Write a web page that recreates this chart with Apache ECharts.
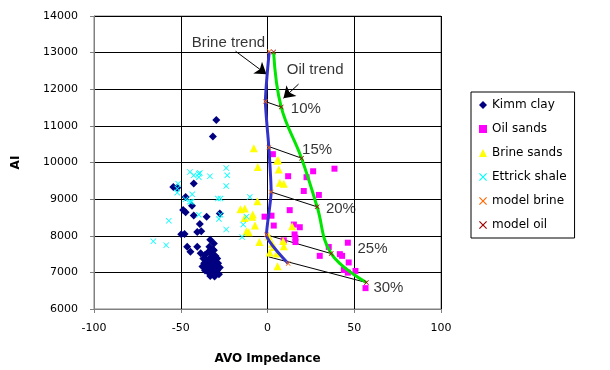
<!DOCTYPE html>
<html>
<head>
<meta charset="utf-8">
<script src="https://cdn.jsdelivr.net/npm/echarts@6/dist/echarts.min.js"></script>
<style>
  html, body { margin: 0; padding: 0; background: #fff; }
  #chart { width: 610px; height: 370px; }
</style>
</head>
<body>
<div id="chart"></div>
<script>
// 数据 (AVO Impedance, AI)
var kimmClay = [
  [-29.5, 11160], [-31.5, 10710],
  [-54.3, 9330], [-52, 9310], [-47.2, 9060], [-48.6, 8700], [-47.2, 8640], [-42.5, 8550],
  [-42.5, 9430], [-43.5, 8820], [-35.1, 8520], [-27.5, 8610], [-39, 8320], [-49.7, 8040],
  [-47.8, 8050], [-40.5, 8100], [-38.2, 8125], [-33, 7890], [-30.9, 7790], [-46.3, 7700],
  [-44.4, 7560], [-40.5, 7700], [-30.9, 7605],
  [-38.5, 7520], [-36, 7480], [-34, 7560], [-32, 7500], [-30, 7450], [-37, 7380],
  [-35, 7340], [-33, 7400], [-31, 7320], [-29, 7380], [-36.5, 7250], [-34.5, 7200],
  [-32.5, 7260], [-30.5, 7190], [-28.5, 7250], [-35, 7120], [-33, 7080], [-31, 7140],
  [-29, 7060], [-27.5, 7130], [-34, 7000], [-32, 6960], [-30, 7010], [-28, 6950],
  [-33, 6900], [-30.5, 6890], [-36, 7050], [-37.5, 7160], [-31.5, 7620], [-33.5, 7700]
];
var oilSands = [
  [3.1, 10227], [11.9, 9626], [26.3, 9761], [38.6, 9831], [22.5, 9599], [20.9, 9222],
  [29.6, 9114], [12.8, 8699], [-1.7, 8521], [2.3, 8548], [3.6, 8278], [15.2, 8305],
  [18.6, 8233], [15.6, 8036], [16.1, 7945], [16.1, 7828], [9.4, 7874], [46.3, 7810],
  [30.1, 7451], [35.3, 7694], [41.7, 7497], [43, 7451], [46.8, 7271], [44, 7066],
  [46.3, 6993], [50.7, 7039], [56.5, 6570]
];
var brineSands = [
  [-7.9, 10390], [6.1, 10070], [-5.6, 9880], [5.6, 10046], [6.5, 9810], [7.1, 9446],
  [9.4, 9419], [-5.8, 8940], [-15.6, 8726], [-13.1, 8745], [-8.5, 8580], [-8.8, 8521],
  [-13.2, 8483], [-7.2, 8278], [-12.1, 8125], [-10.8, 8098], [-4.7, 7828], [0.7, 7982],
  [2.7, 7782], [9, 7855], [3.6, 7694], [5.4, 7513], [1.3, 7545], [5.8, 7170],
  [9.4, 7713], [14.2, 8259]
];
var ettrickShale = [
  [-44.7, 9740], [-42.5, 9650], [-39.6, 9690], [-39, 9715], [-39.6, 9600], [-33.2, 9625],
  [-23.8, 9850], [-23.2, 9650], [-23.8, 9355], [-51.5, 9420], [-52, 9290], [-52, 9175],
  [-43.4, 9130], [-47.2, 8995], [-44.7, 8930], [-43.8, 8930], [-28.6, 9015], [-27.1, 9015],
  [-10.2, 9060], [-39.6, 8575], [-27.1, 8575], [-28, 8455], [-56.9, 8410], [-23.8, 8170],
  [-65.8, 7850], [-58.4, 7740], [-14, 8305], [-14.6, 7965], [-12.1, 8520]
];
// 模型点: 0%,10%,15%,20%,25%,30%
var modelBrine = [[1, 13030], [-1.2, 11663], [0.8, 10407], [2.1, 9195], [-0.6, 8025], [11.9, 7244]];
var modelOil = [[3.5, 13020], [7.9, 11512], [19.6, 10119], [28.6, 8790], [36.7, 7513], [57, 6723]];
// 连线 (brine -> oil)
var tieLines = [
  [[-1.2, 11663], [7.9, 11512]],
  [[0.8, 10435], [19.6, 10119]],
  [[2.1, 9195], [28.6, 8790]],
  [[-0.6, 8025], [36.7, 7513]],
  [[0.7, 7424], [57, 6723]]
];
var porosityLabels = ['10%', '15%', '20%', '25%', '30%'];
var porosityLabelAt = [[22.1, 11467], [28.6, 10343], [42.3, 8726], [60.5, 7648], [69.7, 6570]];
var trendLabels = ['Brine trend', 'Oil trend'];
var trendLabelAt = [[-22.5, 13272], [27.5, 12526]];
var trendArrows = [
  [[-18.4, 13038], [-0.6, 12410]],
  [[17.9, 12140], [9.2, 11755]]
];
var xTicks = [-100, 100, 50];   // min, max, interval
var yTicks = [6000, 14000, 1000];

var crossPath = 'path://M0,1L1,0L5,4L9,0L10,1L6,5L10,9L9,10L5,6L1,10L0,9L4,5Z';
var font = 'Liberation Sans, Arial, sans-serif';

var myCharts = echarts.init(document.getElementById('chart'));
var option = {
  backgroundColor: '#fff',
  animation: false,
  grid: {
    left: 94, right: 169, top: 16, bottom: 57,
    show: true, borderColor: '#808080', borderWidth: 1
  },
  legend: {
    orient: 'vertical',
    left: 471, top: 92,
    padding: [6, 8, 6, 8],
    itemGap: 10,
    itemWidth: 8, itemHeight: 8,
    borderColor: '#000', borderWidth: 1,
    textStyle: { fontFamily: 'DejaVu Sans', fontSize: 12, lineHeight: 14, color: '#000' },
    data: ['Kimm clay', 'Oil sands', 'Brine sands', 'Ettrick shale', 'model brine', 'model oil']
  },
  xAxis: {
    type: 'value',
    min: xTicks[0], max: xTicks[1], interval: xTicks[2],
    name: 'AVO Impedance', nameLocation: 'middle', nameGap: 44,
    nameTextStyle: { fontFamily: 'DejaVu Sans', fontWeight: 'bold', fontSize: 12, color: '#000' },
    axisLine: { onZero: false, lineStyle: { color: '#808080' } },
    axisTick: { show: true, length: 4, lineStyle: { color: '#808080' } },
    axisLabel: {
      fontFamily: 'DejaVu Sans', fontSize: 11, color: '#000', margin: 14,
      formatter: function (v) { return String(v); }
    },
    splitLine: { show: true, lineStyle: { color: '#000', width: 1 } }
  },
  yAxis: {
    type: 'value',
    min: yTicks[0], max: yTicks[1], interval: yTicks[2],
    name: 'AI', nameLocation: 'middle', nameGap: 72,
    nameTextStyle: { fontFamily: 'DejaVu Sans', fontWeight: 'bold', fontSize: 12, color: '#000' },
    axisLine: { show: true, onZero: false, lineStyle: { color: '#808080' } },
    axisTick: { show: true, length: 4, lineStyle: { color: '#808080' } },
    axisLabel: {
      fontFamily: 'DejaVu Sans', fontSize: 11, color: '#000', margin: 16,
      formatter: function (v) { return String(v); }
    },
    splitLine: { show: true, lineStyle: { color: '#000', width: 1 } }
  },
  series: [
    {
      name: 'Kimm clay', type: 'scatter', data: kimmClay,
      symbol: 'diamond', symbolSize: 8, itemStyle: { color: '#000080', opacity: 1 }
    },
    {
      name: 'Oil sands', type: 'scatter', data: oilSands,
      symbol: 'rect', symbolSize: 6, itemStyle: { color: '#ff00ff', opacity: 1 }
    },
    {
      name: 'Brine sands', type: 'scatter', data: brineSands,
      symbol: 'triangle', symbolSize: 8, itemStyle: { color: '#ffff00', opacity: 1 }
    },
    {
      name: 'Ettrick shale', type: 'scatter', data: ettrickShale,
      symbol: crossPath, symbolSize: 6, itemStyle: { color: '#00ffff', opacity: 1 }
    },
    {
      name: 'tie', type: 'lines', coordinateSystem: 'cartesian2d', silent: true,
      data: tieLines.map(function (c) { return { coords: c }; }),
      lineStyle: { color: '#000', width: 1, opacity: 1 }
    },
    {
      name: 'arrows', type: 'lines', coordinateSystem: 'cartesian2d', silent: true,
      symbol: ['none', 'arrow'], symbolSize: 11,
      data: trendArrows.map(function (c) { return { coords: c }; }),
      lineStyle: { color: '#000', width: 1, opacity: 1 }
    },
    {
      name: 'brineLine', type: 'line', data: modelBrine, showSymbol: false, smooth: 0.2,
      lineStyle: { color: '#3333cc', width: 3 }, z: 3
    },
    {
      name: 'oilLine', type: 'line', data: modelOil, showSymbol: false, smooth: 0.4,
      lineStyle: { color: '#00e600', width: 3 }, z: 3
    },
    {
      name: 'model brine', type: 'scatter', data: modelBrine,
      symbol: crossPath, symbolSize: 5, itemStyle: { color: '#ff6600', opacity: 1 }, z: 4
    },
    {
      name: 'model oil', type: 'scatter', data: modelOil,
      symbol: crossPath, symbolSize: 5, itemStyle: { color: '#990000', opacity: 1 }, z: 4
    },
    {
      name: 'porosity', type: 'scatter', silent: true, symbolSize: 0, z: 5,
      data: porosityLabelAt.map(function (p, i) { return { value: p, name: porosityLabels[i] }; }),
      label: { show: true, position: 'inside', formatter: '{b}', fontFamily: font, fontSize: 15, color: '#000' }
    },
    {
      name: 'trend', type: 'scatter', silent: true, symbolSize: 0, z: 5,
      data: trendLabelAt.map(function (p, i) { return { value: p, name: trendLabels[i] }; }),
      label: { show: true, position: 'inside', formatter: '{b}', fontFamily: font, fontSize: 15, color: '#000' }
    }
  ]
};
myCharts.setOption(option);
</script>
</body>
</html>
